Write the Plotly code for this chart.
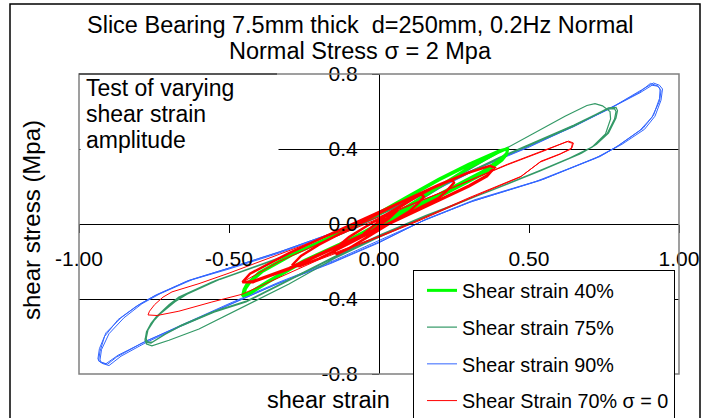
import plotly.graph_objects as go

# ---------------- data ----------------
SERIES_NAMES = ["Shear strain 40%", "Shear strain 75%", "Shear strain 90%", "Shear Strain 70% σ = 0"]

X_TICKS = [-1.0, -0.5, 0.0, 0.5, 1.0]
X_TICK_LABELS = ["-1.00", "-0.50", "0.00", "0.50", "1.00"]
Y_TICKS = [-0.8, -0.4, 0.0, 0.4, 0.8]
Y_TICK_LABELS = ["-0.8", "-0.4", "0.0", "0.4", "0.8"]

TITLE_LINES = ["Slice Bearing 7.5mm thick\u00a0 d=250mm, 0.2Hz Normal", "Normal Stress σ = 2 Mpa"]
NOTE_LINES = ["Test of varying", "shear strain", "amplitude"]

# Shear strain 90 %
STRAIN_90 = [0, 0.2, 0.4, 0.6, 0.75, 0.87, 0.91, 0.93, 0.937,
             0.935, 0.915, 0.88, 0.8, 0.737, 0.537, 0.313, 0.15, 0, -0.15, -0.333, -0.5, -0.65, -0.777, -0.87, -0.91, -0.93, -0.937,
             -0.932, -0.91, -0.86, -0.8, -0.743, -0.633, -0.5, -0.333, -0.15, 0, 0.15, 0.3, 0.48, 0.65, 0.78, 0.87, 0.905, 0.93, 0.94,
             0.935, 0.91, 0.87, 0.79, 0.72, 0.52, 0.3, 0.14, 0, -0.15, -0.333, -0.5, -0.66, -0.79, -0.875, -0.905, -0.925, -0.93,
             -0.925, -0.9, -0.85, -0.79, -0.73, -0.62, -0.49, -0.32, -0.14, 0, 0.16, 0.32, 0.5, 0.66, 0.79, 0.875, 0.915, 0.935, 0.945,
             0.94, 0.92, 0.885, 0.81, 0.74, 0.55, 0.32, 0.16, 0, -0.16, -0.34, -0.51, -0.66, -0.78, -0.86, -0.9, -0.92, -0.935,
             -0.93, -0.915, -0.87, -0.81, -0.75, -0.64, -0.5, -0.333, -0.15, 0, 0.15]
STRESS_90 = [0, 0.19, 0.35, 0.49, 0.6, 0.70, 0.74, 0.735, 0.72,
             0.67, 0.58, 0.51, 0.42, 0.36, 0.232, 0.122, 0.02, -0.096, -0.2, -0.315, -0.43, -0.535, -0.625, -0.70, -0.745, -0.735, -0.72,
             -0.665, -0.58, -0.5, -0.43, -0.378, -0.30, -0.235, -0.15, -0.045, 0.06, 0.17, 0.28, 0.40, 0.52, 0.625, 0.705, 0.75, 0.735, 0.71,
             0.655, 0.57, 0.5, 0.41, 0.35, 0.225, 0.115, 0.012, -0.09, -0.195, -0.31, -0.425, -0.54, -0.635, -0.71, -0.748, -0.74, -0.725,
             -0.67, -0.585, -0.5, -0.425, -0.372, -0.295, -0.23, -0.142, -0.04, 0.062, 0.178, 0.29, 0.41, 0.53, 0.635, 0.715, 0.752, 0.74, 0.72,
             0.66, 0.575, 0.505, 0.425, 0.365, 0.24, 0.13, 0.028, -0.1, -0.21, -0.32, -0.438, -0.545, -0.635, -0.705, -0.755, -0.745, -0.73,
             -0.68, -0.6, -0.51, -0.44, -0.385, -0.305, -0.24, -0.155, -0.05, 0.055, 0.165]

# Shear strain 75 %
STRAIN_75 = [0, 0.1, 0.2, 0.3, 0.403, 0.537, 0.62, 0.693, 0.72, 0.745, 0.77,
             0.772, 0.755, 0.71, 0.62, 0.537, 0.37, 0.15, 0, -0.15, -0.3, -0.45, -0.6, -0.7, -0.757, -0.775, -0.78,
             -0.775, -0.76, -0.743, -0.7, -0.667, -0.557, -0.333, -0.15, 0, 0.2, 0.4, 0.537, 0.647, 0.72, 0.76, 0.785, 0.79,
             0.785, 0.76, 0.72, 0.67, 0.537, 0.37, 0.15, 0, -0.15, -0.3, -0.443, -0.55, -0.667, -0.72, -0.76, -0.775, -0.78,
             -0.772, -0.755, -0.735, -0.69, -0.655, -0.545, -0.32, -0.14, 0, 0.2, 0.4, 0.54, 0.65, 0.725, 0.765, 0.79, 0.795,
             0.79, 0.765, 0.725, 0.675, 0.54, 0.375, 0.155, 0, -0.15, -0.3, -0.44, -0.55, -0.66, -0.715, -0.755, -0.772, -0.776,
             -0.77, -0.75, -0.73, -0.68, -0.64, -0.53, -0.3, -0.12, 0]
STRESS_75 = [0, 0.09, 0.19, 0.29, 0.385, 0.5, 0.575, 0.632, 0.642, 0.63, 0.6,
             0.56, 0.48, 0.41, 0.34, 0.285, 0.176, 0.035, -0.07, -0.185, -0.32, -0.44, -0.56, -0.62, -0.65, -0.64, -0.62,
             -0.575, -0.53, -0.496, -0.43, -0.389, -0.309, -0.181, -0.065, 0.045, 0.195, 0.35, 0.443, 0.52, 0.58, 0.612, 0.615, 0.60,
             0.56, 0.48, 0.42, 0.373, 0.283, 0.176, 0.04, -0.065, -0.18, -0.3, -0.416, -0.47, -0.549, -0.595, -0.635, -0.632, -0.615,
             -0.57, -0.52, -0.485, -0.42, -0.382, -0.302, -0.175, -0.06, 0.05, 0.2, 0.355, 0.45, 0.528, 0.587, 0.62, 0.622, 0.605,
             0.565, 0.485, 0.425, 0.378, 0.288, 0.18, 0.045, -0.06, -0.175, -0.295, -0.41, -0.465, -0.54, -0.59, -0.63, -0.628, -0.61,
             -0.565, -0.515, -0.48, -0.415, -0.375, -0.295, -0.165, -0.05, 0.04]

# Shear strain 40 %
STRAIN_40 = [0, 0.1, 0.2, 0.3, 0.4, 0.43,
             0.425, 0.41, 0.35, 0.2, 0.05, -0.1, -0.25, -0.37, -0.43, -0.455,
             -0.45, -0.44, -0.4, -0.3, -0.15, 0, 0.1, 0.2, 0.3, 0.4, 0.43,
             0.425, 0.405, 0.34, 0.19, 0.04, -0.1, -0.25, -0.37, -0.43, -0.45,
             -0.445, -0.43, -0.39, -0.29, -0.14, 0, 0.1, 0.2, 0.3, 0.4, 0.425]
STRESS_40 = [0, 0.1, 0.2, 0.3, 0.385, 0.405,
             0.37, 0.34, 0.27, 0.145, 0.03, -0.09, -0.2, -0.31, -0.37, -0.385,
             -0.35, -0.32, -0.26, -0.17, -0.06, 0.055, 0.145, 0.235, 0.315, 0.385, 0.405,
             0.375, 0.345, 0.275, 0.15, 0.035, -0.085, -0.195, -0.305, -0.365, -0.38,
             -0.345, -0.31, -0.255, -0.165, -0.055, 0.06, 0.15, 0.24, 0.32, 0.39, 0.40]

# Shear Strain 70 %, sigma = 0 : large cycles (thin line)
STRAIN_70 = [-0.455, -0.333, -0.15, 0, 0.2, 0.427, 0.55, 0.6, 0.627, 0.645,
             0.64, 0.6, 0.537, 0.47, 0.3, 0.137, 0, -0.2, -0.35, -0.457, -0.557, -0.667, -0.74, -0.77,
             -0.765, -0.748, -0.72, -0.69, -0.6, -0.5, -0.333, -0.15, 0, 0.2, 0.427, 0.55, 0.605, 0.632, 0.648,
             0.643, 0.605, 0.54, 0.475, 0.3, 0.137, 0, -0.2]
STRESS_70 = [-0.31, -0.2, -0.07, 0.03, 0.16, 0.315, 0.39, 0.42, 0.44, 0.43,
             0.40, 0.37, 0.33, 0.25, 0.135, 0.02, -0.07, -0.19, -0.3, -0.375, -0.416, -0.465, -0.488, -0.485,
             -0.465, -0.43, -0.39, -0.362, -0.318, -0.262, -0.162, -0.052, 0.038, 0.163, 0.318, 0.393, 0.425, 0.442, 0.432,
             0.405, 0.375, 0.335, 0.255, 0.14, 0.025, -0.065, -0.185]

# Shear Strain 70 %, sigma = 0 : small, repeated cycles (thick bundles)
STRAIN_70_SMALL = [0, 0.03, 0.055, 0.06, 0.03, -0.01, -0.045, -0.05, -0.02, 0.02, 0.055,
                   0.1, 0.14, 0.15, 0.13, 0.1, 0.05, 0, -0.05, -0.1, -0.14, -0.15, -0.13, -0.1, -0.05, 0, 0.05, 0.1,
                   0.2, 0.245, 0.25, 0.225, 0.2, 0.1, 0, -0.1, -0.2, -0.265, -0.29, -0.26, -0.2, -0.1, 0, 0.1, 0.2,
                   0.3, 0.37, 0.385, 0.36, 0.3, 0.15, 0, -0.15, -0.3, -0.42, -0.455, -0.43, -0.3, -0.15, 0, 0.15, 0.3, 0.37, 0.385,
                   0.36, 0.3, 0.15, 0, -0.15, -0.3, -0.42, -0.455]
STRESS_70_SMALL = [0, 0.035, 0.075, 0.07, 0.025, -0.02, -0.06, -0.05, -0.01, 0.04, 0.075,
                   0.12, 0.16, 0.145, 0.11, 0.066, 0.016, -0.033, -0.082, -0.13, -0.16, -0.15, -0.11, -0.07, -0.02, 0.027, 0.076, 0.124,
                   0.21, 0.235, 0.22, 0.175, 0.14, 0.057, -0.024, -0.105, -0.185, -0.225, -0.22, -0.17, -0.11, -0.025, 0.056, 0.137, 0.21,
                   0.275, 0.31, 0.30, 0.255, 0.20, 0.086, -0.025, -0.13, -0.24, -0.31, -0.31, -0.265, -0.155, -0.045, 0.065, 0.172, 0.275, 0.31, 0.30,
                   0.26, 0.205, 0.09, -0.02, -0.125, -0.235, -0.305, -0.31]

COLORS = {"40": "#00FF00", "75": "#339966", "90": "#3366FF", "70": "#FF0000"}

FONT = "Liberation Sans, Arial, sans-serif"

# pixel -> paper helpers for the 600x300 plot area (left 79, top 74)
def px_x(p):
    return (p - 79) / 600.0


def px_y(p):
    return (374 - p) / 300.0


fig = go.Figure()

fig.add_trace(go.Scatter(x=STRAIN_90, y=STRESS_90, mode="lines", name=SERIES_NAMES[2],
                         line=dict(color=COLORS["90"], width=1), legendrank=3, legendgroup="g90"))
fig.add_trace(go.Scatter(x=STRAIN_75, y=STRESS_75, mode="lines", name=SERIES_NAMES[1],
                         line=dict(color=COLORS["75"], width=1.2), legendrank=2, legendgroup="g75"))
fig.add_trace(go.Scatter(x=STRAIN_40, y=STRESS_40, mode="lines", name=SERIES_NAMES[0],
                         line=dict(color=COLORS["40"], width=3), legendrank=1, legendgroup="g40"))
fig.add_trace(go.Scatter(x=STRAIN_70, y=STRESS_70, mode="lines", name=SERIES_NAMES[3],
                         line=dict(color=COLORS["70"], width=1), legendrank=4, legendgroup="g70"))
fig.add_trace(go.Scatter(x=STRAIN_70_SMALL, y=STRESS_70_SMALL, mode="lines", name=SERIES_NAMES[3],
                         line=dict(color=COLORS["70"], width=2.5), showlegend=False, legendgroup="g70"))

annotations = [
    dict(text=TITLE_LINES[0], xref="paper", yref="paper", x=px_x(360), y=px_y(25), xanchor="center",
         yanchor="middle", showarrow=False, font=dict(size=23.5, family=FONT, color="black")),
    dict(text=TITLE_LINES[1], xref="paper", yref="paper", x=px_x(360), y=px_y(51), xanchor="center",
         yanchor="middle", showarrow=False, font=dict(size=23.5, family=FONT, color="black")),
    dict(text="shear strain", xref="paper", yref="paper", x=px_x(328), y=px_y(400), xanchor="center",
         yanchor="middle", showarrow=False, font=dict(size=23.5, family=FONT, color="black")),
    dict(text="shear stress (Mpa)", xref="paper", yref="paper", x=px_x(31), y=px_y(220), xanchor="center",
         yanchor="middle", textangle=-90, showarrow=False, font=dict(size=24, family=FONT, color="black")),
    # white note box (covers the gridline behind the note text)
    dict(text="\u00a0", xref="paper", yref="paper", x=px_x(80), y=px_y(75.5), xanchor="left", yanchor="top",
         showarrow=False, bgcolor="white", borderpad=0, width=197, height=77,
         font=dict(size=10, family=FONT, color="white")),
]
for i, line_text in enumerate(NOTE_LINES):
    annotations.append(dict(text=line_text, xref="paper", yref="paper", x=px_x(84), y=px_y(88 + 26 * i),
                            xanchor="left", yanchor="middle", showarrow=False,
                            font=dict(size=23, family=FONT, color="black")))

fig.update_layout(
    width=702, height=418,
    margin=dict(l=79, r=23, t=74, b=44, autoexpand=False),
    paper_bgcolor="white", plot_bgcolor="white",
    font=dict(family=FONT, color="black"),
    xaxis=dict(range=[-1, 1], anchor="free", position=0.5, showline=True, linecolor="black", linewidth=1,
               ticks="outside", ticklen=8, tickcolor="black", tickvals=X_TICKS, ticktext=X_TICK_LABELS,
               tickfont=dict(size=21, family=FONT, color="black"), showgrid=False, zeroline=False,
               ticklabelstandoff=8),
    yaxis=dict(range=[-0.8, 0.8], anchor="free", position=0.5, showline=True, linecolor="black", linewidth=1,
               ticks="outside", ticklen=7, tickcolor="black", tickvals=Y_TICKS, ticktext=Y_TICK_LABELS,
               tickfont=dict(size=21, family=FONT, color="black"), showgrid=True, gridcolor="black", gridwidth=1,
               zeroline=False, ticklabelstandoff=10),
    legend=dict(x=px_x(413), y=px_y(270), xanchor="left", yanchor="top", bgcolor="white", bordercolor="black",
                borderwidth=1, font=dict(size=19.8, family=FONT, color="black"), tracegroupgap=8,
                itemwidth=30, indentation=8),
    shapes=[
        # plot-area frame
        dict(type="rect", xref="paper", yref="paper", x0=0, x1=1, y0=0, y1=1,
             line=dict(color="#808080", width=1.5), layer="above"),
        # top edge of the note box
        dict(type="line", xref="paper", yref="paper", x0=0, x1=px_x(277), y0=1, y1=1,
             line=dict(color="#404040", width=1.5), layer="above"),
        # outer chart frame
        dict(type="rect", xref="paper", yref="paper", x0=px_x(10), x1=px_x(700), y0=-0.3, y1=px_y(4),
             line=dict(color="black", width=1.5), layer="above"),
    ],
    annotations=annotations,
)

fig.write_html("out.html", post_script="document.body.style.margin='0px';",
               config={"displayModeBar": False})
